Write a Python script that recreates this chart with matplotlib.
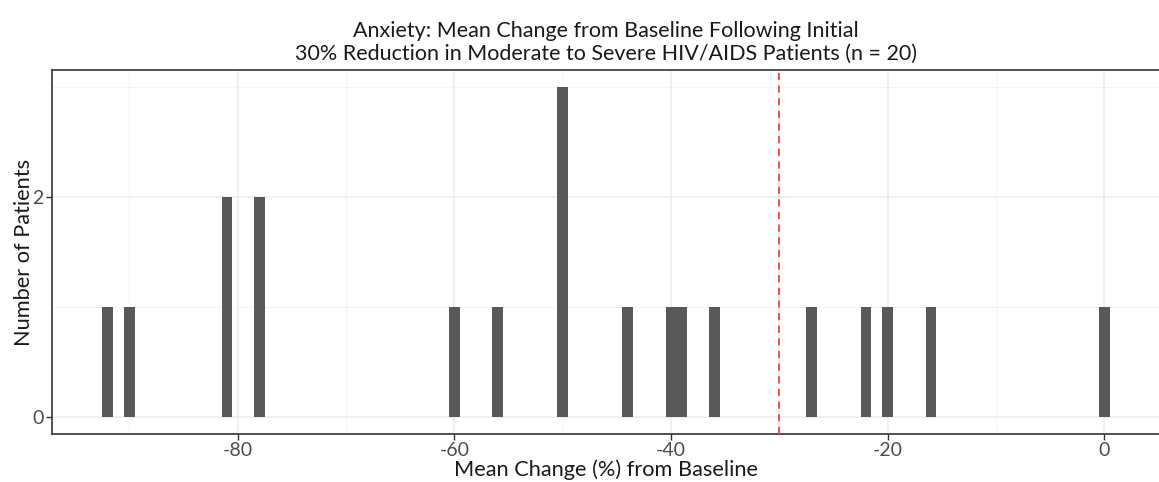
import numpy as np
import matplotlib.pyplot as plt
from matplotlib.ticker import MultipleLocator, FixedLocator

# histogram counts (binwidth = 1, bins centred on whole percentages)
change_pct = [-92, -90, -81, -78, -60, -56, -50, -44, -40, -39, -36, -27, -22, -20, -16, 0]
n_patients = [1, 1, 2, 2, 1, 1, 3, 1, 1, 1, 1, 1, 1, 1, 1, 1]
threshold = -30

title = ("Anxiety: Mean Change from Baseline Following Initial\n"
         "30% Reduction in Moderate to Severe HIV/AIDS Patients (n = 20)")

plt.rcParams['font.family'] = ['Lato', 'DejaVu Sans']

W, H = 1159, 482
fig = plt.figure(figsize=(W / 100, H / 100), dpi=100, facecolor='white')
# panel in pixel coords: left 52, right ~1160, top 70, bottom 434
ax = fig.add_axes([52 / W, 1 - 434 / H, (1160 - 52) / W, (434 - 70) / H])

ax.bar(change_pct, n_patients, width=1.0, color='#595959',
       edgecolor='none', linewidth=0, zorder=3)
ax.axvline(threshold, color='#ff3b3b', linestyle=(0, (4, 3)), linewidth=1.3, zorder=4)

ax.set_xlim(-97.15, 5.15)
ax.set_ylim(-0.15, 3.15)

ax.xaxis.set_major_locator(MultipleLocator(20))
ax.xaxis.set_minor_locator(FixedLocator([-90, -70, -50, -30, -10]))
ax.yaxis.set_major_locator(FixedLocator([0, 2]))
ax.yaxis.set_minor_locator(FixedLocator([1, 3]))
ax.xaxis.set_major_formatter(plt.FuncFormatter(lambda v, p: f"{v:.0f}"))

ax.grid(which='major', color='#ebebeb', linewidth=1.1, zorder=0)
ax.grid(which='minor', color='#f2f2f2', linewidth=0.6, zorder=0)

for side in ['top', 'left', 'bottom']:
    ax.spines[side].set_color('#333333')
    ax.spines[side].set_linewidth(1.2)
ax.spines['right'].set_visible(False)

ax.tick_params(which='major', length=4, width=1, color='#333333',
               labelsize=14, labelcolor='#4d4d4d', pad=2)
ax.tick_params(which='minor', length=0)

ax.set_xlabel('Mean Change (%) from Baseline', fontsize=15.7, color='#1a1a1a', labelpad=0)
ax.set_ylabel('Number of Patients', fontsize=15.7, color='#1a1a1a', labelpad=-1)
ax.set_title(title, fontsize=15.5, color='#1a1a1a', pad=7, linespacing=1.2)

fig.savefig('out.png', dpi=100, facecolor='white')
